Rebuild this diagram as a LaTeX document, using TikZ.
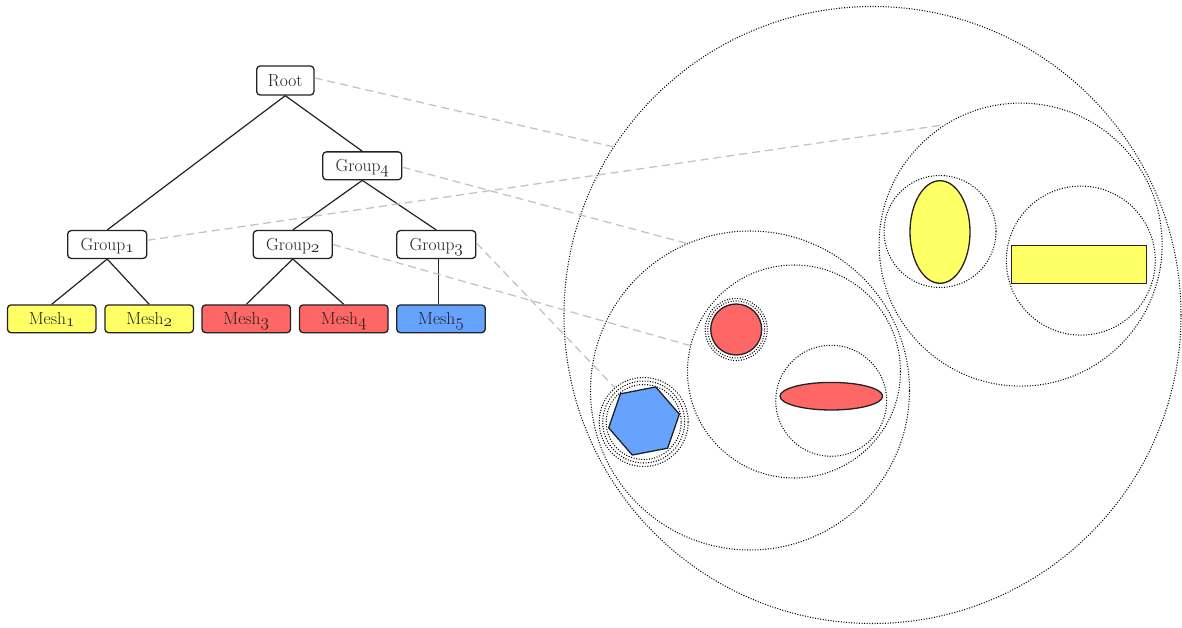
\documentclass[tikz,border=0pt]{standalone}
\usetikzlibrary{calc}
\definecolor{myyellow}{RGB}{255,255,102}
\definecolor{myred}{RGB}{255,102,102}
\definecolor{myblue}{RGB}{102,163,255}
\definecolor{ink}{RGB}{34,34,34}
\definecolor{linkgray}{RGB}{195,195,195}
\newcommand{\osn}[1]{\raisebox{-2pt}{$\mathnormal{#1}$}}
\begin{document}
\begin{tikzpicture}[x=1pt,y=-1pt,
  treebox/.style={draw=ink, line width=1.3pt, rounded corners=3.5pt, inner sep=0pt,
    text height=11.5pt, text depth=0pt, font=\fontsize{17.5}{20}\selectfont, text=ink},
  groupbox/.style={treebox, fill=white, minimum width=79pt, minimum height=27.8pt},
  meshbox/.style={treebox, minimum width=88.5pt, minimum height=27.7pt},
  treeline/.style={draw=ink, line width=1.2pt},
  bsphere/.style={circle, draw=black, line width=1.05pt, dash pattern=on 1pt off 1.6pt,
    inner sep=0pt, outer sep=0pt},
  linkline/.style={draw=linkgray, line width=1.3pt, dash pattern=on 8pt off 5pt},
  meshshape/.style={draw=ink, line width=1.3pt}]
\useasboundingbox (0,0) rectangle (1182,628);

% bounding spheres
\node[bsphere, minimum size=617pt] (RC) at (872.5,315) {};
\node[bsphere, minimum size=283pt] (G1C) at (1020.6,244.6) {};
\node[bsphere, minimum size=112pt] (M1C) at (940,231.5) {};
\node[bsphere, minimum size=149pt] (M2C) at (1080.8,260.6) {};
\node[bsphere, minimum size=319pt] (G4C) at (750,390.5) {};
\node[bsphere, minimum size=213pt] (G2C) at (794,371.5) {};
\node[bsphere, minimum size=62pt] (M3C) at (736.2,329.5) {};
\node[bsphere, minimum size=57pt] (M3Cb) at (736.2,329.5) {};
\node[bsphere, minimum size=111pt] (M4C) at (831.2,400.8) {};
\node[bsphere, minimum size=89pt] (G3C) at (643.7,422) {};
\node[bsphere, minimum size=82pt] (G3Cb) at (643.7,422) {};
\node[bsphere, minimum size=75pt] (M5C) at (643.7,422) {};

% meshes
\filldraw[meshshape, fill=myyellow] (940,232) ellipse [x radius=30, y radius=51.3];
\filldraw[meshshape, fill=myyellow] (1011.7,245.7) rectangle (1146.7,283.3);
\filldraw[meshshape, fill=myred] (736.2,329.5) circle [radius=25.5];
\filldraw[meshshape, fill=myred] (831.3,396.2) ellipse [x radius=51.3, y radius=13.8];
\coordinate (HC) at (644,421);
\filldraw[meshshape, fill=myblue, line join=round]
  ($(HC)+(-11:36)$) -- ($(HC)+(-71:36)$) -- ($(HC)+(-131:36)$) --
  ($(HC)+(-191:36)$) -- ($(HC)+(-251:36)$) -- ($(HC)+(-311:36)$) -- cycle;

% tree
\node[groupbox, minimum width=57.3pt, minimum height=29pt] (root) at (285.3,80.5) {Root};
\node[groupbox] (g4) at (362.3,165.8) {Group\osn{4}};
\node[groupbox] (g1) at (107.2,244.5) {Group\osn{1}};
\node[groupbox] (g2) at (292.8,244.5) {Group\osn{2}};
\node[groupbox] (g3) at (436.3,244.5) {Group\osn{3}};
\node[meshbox, fill=myyellow] (m1) at (51.7,318.8) {Mesh\osn{1}};
\node[meshbox, fill=myyellow] (m2) at (149.2,318.8) {Mesh\osn{2}};
\node[meshbox, fill=myred] (m3) at (246.3,318.8) {Mesh\osn{3}};
\node[meshbox, fill=myred] (m4) at (343.8,318.8) {Mesh\osn{4}};
\node[meshbox, fill=myblue] (m5) at (441,318.8) {Mesh\osn{5}};

\draw[treeline] (root.south) -- (g1.north);
\draw[treeline] (root.south) -- (g4.north);
\draw[treeline] (g4.south) -- (g2.north);
\draw[treeline] (g4.south) -- (g3.north);
\draw[treeline] (g1.south) -- (m1.north);
\draw[treeline] (g1.south) -- (m2.north);
\draw[treeline] (g2.south) -- (m3.north);
\draw[treeline] (g2.south) -- (m4.north);
\draw[treeline] ([xshift=2pt]g3.south) -- ([xshift=2pt]g3.south |- m5.north);

% links from tree nodes to spheres
\draw[linkline] (root.5) -- (RC.147);
\draw[linkline] (g1.6) -- (G1C.122);
\draw[linkline] (g4.-2) -- (G4C.113);
\draw[linkline] (g2.0) -- (G2C.166);
\draw[linkline] (g3.2) -- (G3C.130);
\end{tikzpicture}
\end{document}
